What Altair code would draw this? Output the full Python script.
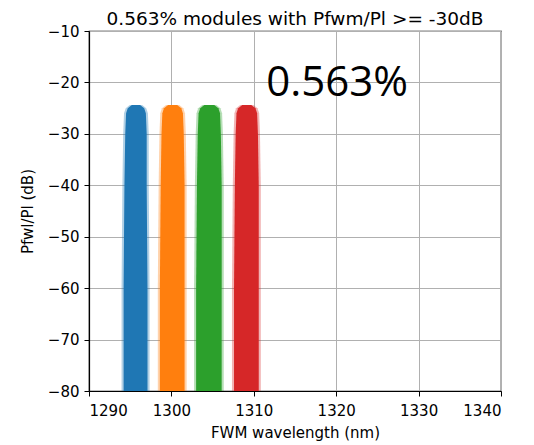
import altair as alt
import pandas as pd

# Band profiles (y in dB, left/right edges in nm)
profile_y = [-80, -60, -40, -30, -26, -25, -24.4]

blue_left = [1294.2, 1294.2, 1294.3, 1294.4, 1294.5, 1294.7, 1295.2]
blue_right = [1297.1, 1297.1, 1297.0, 1297.0, 1296.9, 1296.7, 1296.2]
orange_left = [1298.6, 1298.6, 1298.7, 1298.8, 1298.9, 1299.1, 1299.6]
orange_right = [1301.6, 1301.6, 1301.6, 1301.5, 1301.4, 1301.2, 1300.7]
green_left = [1303.0, 1303.0, 1303.1, 1303.2, 1303.3, 1303.5, 1304.0]
green_right = [1306.1, 1306.1, 1306.1, 1306.0, 1305.9, 1305.7, 1305.2]
red_left = [1307.6, 1307.6, 1307.7, 1307.8, 1307.9, 1308.1, 1308.6]
red_right = [1310.6, 1310.6, 1310.6, 1310.5, 1310.4, 1310.2, 1309.7]

band_names = ["ch1", "ch2", "ch3", "ch4"]
band_colors = ["#1f77b4", "#ff7f0e", "#2ca02c", "#d62728"]
fuzz = 0.25

annot_x = [1311.5]
annot_y = [-22.65]
annot_text = ["0.563%"]

title_text = "0.563% modules with Pfwm/Pl >= -30dB"

rows = []
for name, lefts, rights in zip(
    band_names,
    [blue_left, orange_left, green_left, red_left],
    [blue_right, orange_right, green_right, red_right],
):
    for y, l, r in zip(profile_y, lefts, rights):
        rows.append({"band": name, "y": y, "xl": l, "xr": r,
                     "xlo": l - fuzz, "xro": r + fuzz})
df = pd.DataFrame(rows)

xscale = alt.Scale(domain=[1290, 1340], nice=False)
yscale = alt.Scale(domain=[-80, -10], nice=False)
cscale = alt.Scale(domain=band_names, range=band_colors)

xaxis = alt.Axis(values=[1290, 1300, 1310, 1320, 1330, 1340], format="d",
                 title="FWM wavelength (nm)", labelPadding=7, titlePadding=7)
yaxis = alt.Axis(values=[-80, -70, -60, -50, -40, -30, -20, -10], title="Pfwl/Pl (dB)",
                 labelExpr="replace(datum.label, '-', '\u2212')", titlePadding=12)

outer = alt.Chart(df).mark_area(orient="horizontal", opacity=0.35).encode(
    y=alt.Y("y:Q", scale=yscale, axis=yaxis),
    x=alt.X("xlo:Q", scale=xscale, axis=xaxis),
    x2="xro:Q",
    color=alt.Color("band:N", scale=cscale, legend=None),
    detail="band:N",
)
inner = alt.Chart(df).mark_area(orient="horizontal", opacity=1).encode(
    y=alt.Y("y:Q", scale=yscale),
    x=alt.X("xl:Q", scale=xscale),
    x2="xr:Q",
    color=alt.Color("band:N", scale=cscale, legend=None),
    detail="band:N",
)

annot = alt.Chart(pd.DataFrame({"x": annot_x, "y": annot_y, "t": annot_text})).mark_text(
    align="left", baseline="alphabetic", font="Open Sans", fontSize=42, color="black"
).encode(x=alt.X("x:Q", scale=xscale), y=alt.Y("y:Q", scale=yscale), text="t:N")

chart = alt.layer(outer, inner, annot).properties(
    width=412, height=360,
    autosize=alt.AutoSizeParams(type="none"),
    padding={"left": 81, "top": 23, "right": 25, "bottom": 54},
    title=alt.TitleParams(title_text, font="DejaVu Sans", fontSize=18.5, fontWeight="normal",
                          color="black", offset=6, anchor="middle", frame="group", dy=10),
).configure_view(stroke="black", strokeWidth=1.2).configure_axis(
    labelFont="DejaVu Sans", labelFontSize=15, labelColor="black",
    titleFont="DejaVu Sans", titleFontSize=15, titleFontWeight="normal", titleColor="black",
    tickColor="black", tickSize=5, tickWidth=1, domainColor="black", domainWidth=1.2,
    grid=True, gridColor="#b0b0b0", gridWidth=1, labelPadding=5,
)

chart.save("out.html", embed_options={"renderer": "svg", "actions": False})
